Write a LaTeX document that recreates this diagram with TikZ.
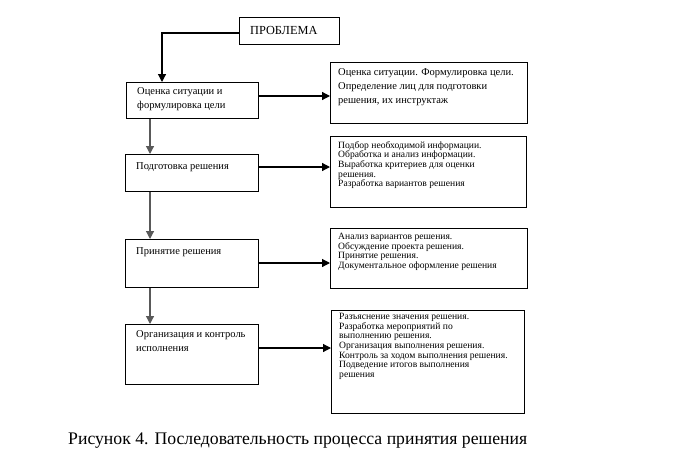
\documentclass[tikz,border=0pt]{standalone}
\usepackage{fontspec}
\setmainfont{Liberation Serif}
\usetikzlibrary{arrows.meta}

\definecolor{linegray}{gray}{0.35}

\tikzset{
    frame/.style={draw, line width=0.8pt, inner sep=0pt, anchor=north west},
    bigtext/.style={font=\fontsize{10.5}{14}\selectfont, align=left, inner sep=0pt, anchor=north west},
    smalltext/.style={font=\fontsize{9.6}{9.7}\selectfont, align=left, inner sep=0pt, anchor=north west},
    flow/.style={line width=1.2pt, -{Triangle[length=8pt,width=8pt]}},
}

\begin{document}
\begin{tikzpicture}[x=1pt, y=-1pt]
    \useasboundingbox (0,0) rectangle (692,460);
    \begin{scope} % Left column
        \node[frame, minimum width=100pt, minimum height=27pt] (problem) at (239,17) {};
        \node[font=\fontsize{12.3}{14}\selectfont, anchor=west, inner sep=0pt] at ([xshift=11pt]problem.west) {ПРОБЛЕМА};
        \node[frame, minimum width=132pt, minimum height=36pt] (situation) at (126,82) {};
        \node[bigtext] at ([shift={(11,5)}]situation.north west) {Оценка ситуации и\\формулировка цели};
        \node[frame, minimum width=133pt, minimum height=37pt] (prepare) at (125,154) {};
        \node[bigtext] at ([shift={(11,8)}]prepare.north west) {Подготовка решения};
        \node[frame, minimum width=133pt, minimum height=48pt] (decide) at (125,239) {};
        \node[bigtext] at ([shift={(11,8)}]decide.north west) {Принятие решения};
        \node[frame, minimum width=133pt, minimum height=60pt] (control) at (125,324) {};
        \node[bigtext] at ([shift={(11,6)}]control.north west) {Организация и контроль\\исполнения};
    \end{scope}
    \begin{scope} % Right column
        \node[frame, minimum width=197pt, minimum height=61pt] (goal) at (330,62) {};
        \node[bigtext] at ([shift={(8,6)}]goal.north west) {Оценка ситуации. Формулировка цели.\\Определение лиц для подготовки\\решения, их инструктаж};
        \node[frame, minimum width=196pt, minimum height=71pt] (info) at (330,136) {};
        \node[smalltext] at ([shift={(8,5)}]info.north west) {Подбор необходимой информации.\\Обработка и анализ информации.\\Выработка критериев для оценки\\решения.\\Разработка вариантов решения};
        \node[frame, minimum width=197pt, minimum height=60pt] (variants) at (330,228) {};
        \node[smalltext] at ([shift={(8,5)}]variants.north west) {Анализ вариантов решения.\\Обсуждение проекта решения.\\Принятие решения.\\Документальное оформление решения};
        \node[frame, minimum width=193pt, minimum height=103pt] (execution) at (331,310) {};
        \node[smalltext] at ([shift={(8,3)}]execution.north west) {Разъяснение значения решения.\\Разработка мероприятий по\\выполнению решения.\\Организация выполнения решения.\\Контроль за ходом выполнения решения.\\Подведение итогов выполнения\\решения};
    \end{scope}
    \begin{scope} % Arrows
        \draw[flow] (problem.west |- 0,33) -| (situation.north -| 162,0);
        \draw[flow, linegray] (situation.south -| 150,0) -- (prepare.north -| 150,0);
        \draw[flow, linegray] (prepare.south -| 150,0) -- (decide.north -| 150,0);
        \draw[flow, linegray] (decide.south -| 150,0) -- (control.north -| 150,0);
        \draw[flow] (situation.east |- 0,96) -- (goal.west |- 0,96);
        \draw[flow] (prepare.east |- 0,167) -- (info.west |- 0,167);
        \draw[flow] (decide.east |- 0,263) -- (variants.west |- 0,263);
        \draw[flow] (control.east |- 0,348) -- (execution.west |- 0,348);
    \end{scope}
    \node[font=\fontsize{17.7}{20}\selectfont, anchor=west, inner sep=0pt] (caption) at (68,441) {Рисунок 4. Последовательность процесса принятия решения};
\end{tikzpicture}
\end{document}
